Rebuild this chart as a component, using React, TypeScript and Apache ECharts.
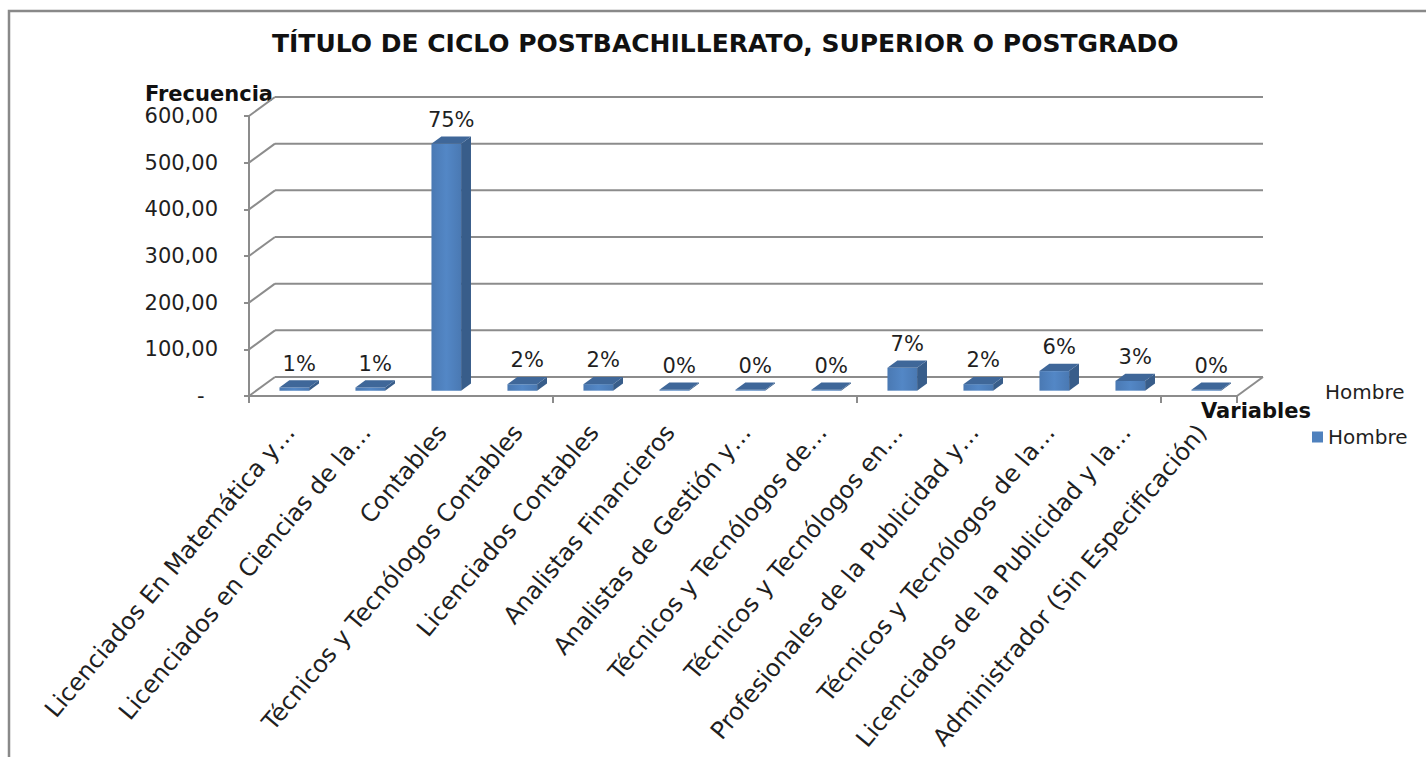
import React, { useEffect, useRef } from 'react';
import * as echarts from 'echarts';

const categories = [
  'Licenciados En Matemática y…',
  'Licenciados en Ciencias de la…',
  'Contables',
  'Técnicos y Tecnólogos Contables',
  'Licenciados Contables',
  'Analistas Financieros',
  'Analistas de Gestión y…',
  'Técnicos y Tecnólogos de…',
  'Técnicos y Tecnólogos en…',
  'Profesionales de la Publicidad y…',
  'Técnicos y Tecnólogos de la…',
  'Licenciados de la Publicidad y la…',
  'Administrador (Sin Especificación)',
];
const values = [7, 7, 529, 14, 14, 2, 2, 2, 49, 14, 42, 21, 2];
const yTicks = [0, 100, 200, 300, 400, 500, 600];
const yTickLabels = ['-', '100,00', '200,00', '300,00', '400,00', '500,00', '600,00'];
const seriesName = 'Hombre';
const titleText = 'TÍTULO DE CICLO POSTBACHILLERATO, SUPERIOR O POSTGRADO';
const yAxisTitle = 'Frecuencia';
const xAxisTitle = 'Variables';

const DX = 26;
const DY = -19;
const FONT = '"DejaVu Sans", sans-serif';
const TEXT = '#1f1f1f';
const GRIDLINE = '#8c8c8c';
const G = { left: 249, right: 189, top: 116, bottom: 361 };
const LABEL_SHIFT = 3;

export default function App() {
  const ref = useRef<HTMLDivElement>(null);
  useEffect(() => {
    const chart = echarts.init(ref.current as HTMLDivElement, null, { renderer: 'svg' });
    const total = values.reduce((a, b) => a + b, 0);
    const option: any = {
      animation: false,
      backgroundColor: '#ffffff',
      title: {
        text: titleText,
        left: 272,
        top: 31,
        padding: 0,
        textStyle: { fontFamily: FONT, fontWeight: 'bold', fontSize: 25, color: '#111' },
      },
      legend: {
        left: 1307,
        top: 422,
        itemWidth: 11,
        itemHeight: 11,
        data: [{ name: seriesName, icon: 'rect', itemStyle: { color: '#4f81bd' } }],
        textStyle: { fontFamily: FONT, fontSize: 20, color: TEXT },
      },
      grid: [
        { left: G.left, right: G.right, top: G.top, bottom: G.bottom },
        { left: G.left + LABEL_SHIFT, right: G.right - LABEL_SHIFT, top: G.top, bottom: G.bottom },
      ],
      xAxis: [
        {
          type: 'category',
          gridIndex: 0,
          data: categories,
          axisLine: { show: true, lineStyle: { color: GRIDLINE, width: 2 } },
          axisTick: { show: true, length: 7, lineStyle: { color: GRIDLINE, width: 2 } },
          axisLabel: { show: false },
          splitLine: { show: false },
        },
        {
          type: 'category',
          gridIndex: 1,
          data: categories,
          axisLine: { show: false },
          axisTick: { show: false },
          axisLabel: {
            show: true,
            interval: 0,
            rotate: 50,
            margin: 32,
            hideOverlap: false,
            fontFamily: FONT,
            fontSize: 24,
            color: TEXT,
          },
        },
      ],
      yAxis: [
        {
          type: 'value',
          gridIndex: 0,
          min: 0,
          max: 600,
          interval: 100,
          axisLine: { show: true, lineStyle: { color: GRIDLINE, width: 2 } },
          axisTick: { show: true, length: 5, lineStyle: { color: GRIDLINE, width: 2 } },
          splitLine: { show: false },
          axisLabel: {
            margin: 31,
            fontFamily: FONT,
            fontSize: 21,
            color: TEXT,
            formatter: (v: number) => {
              const i = yTicks.indexOf(v);
              const s = i >= 0 ? yTickLabels[i] : '';
              return s === '-' ? '-\u00a0\u00a0' : s;
            },
          },
        },
        { type: 'value', gridIndex: 1, min: 0, max: 600, show: false },
      ],
      graphic: [
        {
          type: 'rect',
          shape: { x: 9, y: 11, width: 1500, height: 800 },
          style: { fill: 'none', stroke: '#898989', lineWidth: 2.5 },
          silent: true,
        },
        {
          type: 'text',
          x: 145,
          y: 94,
          style: { text: yAxisTitle, font: 'bold 21px "DejaVu Sans", sans-serif', fill: '#111', verticalAlign: 'middle' },
        },
        {
          type: 'text',
          x: 1201,
          y: 411,
          style: { text: xAxisTitle, font: 'bold 21px "DejaVu Sans", sans-serif', fill: '#111', verticalAlign: 'middle' },
        },
        {
          type: 'text',
          x: 1325,
          y: 392,
          style: { text: seriesName, font: '20px "DejaVu Sans", sans-serif', fill: TEXT, verticalAlign: 'middle' },
        },
      ],
      series: [
        {
          type: 'custom',
          name: 'walls',
          xAxisIndex: 0,
          yAxisIndex: 0,
          silent: true,
          clip: false,
          z: 1,
          data: yTicks.map((v) => [0, v]),
          renderItem: (params: any, api: any) => {
            const cs = params.coordSys;
            const x0 = cs.x;
            const x1 = cs.x + cs.width;
            const v = api.value(1);
            const y = api.coord([0, v])[1];
            const style = { stroke: GRIDLINE, lineWidth: 2, fill: null };
            const children: any[] = [
              { type: 'line', shape: { x1: x0, y1: y, x2: x0 + DX, y2: y + DY }, style },
              { type: 'line', shape: { x1: x0 + DX, y1: y + DY, x2: x1 + DX, y2: y + DY }, style },
            ];
            if (v === 0) {
              children.push({ type: 'line', shape: { x1: x1, y1: y, x2: x1 + DX, y2: y + DY }, style });
            }
            return { type: 'group', children };
          },
        },
        {
          type: 'custom',
          name: seriesName,
          xAxisIndex: 0,
          yAxisIndex: 0,
          clip: false,
          z: 3,
          itemStyle: { color: '#4f81bd' },
          encode: { x: 0, y: 1 },
          data: values.map((v, i) => [i, v]),
          renderItem: (params: any, api: any) => {
            const i = api.value(0);
            const v = api.value(1);
            const base = api.coord([i, 0]);
            const top = api.coord([i, v]);
            const bw = api.size([1, 0])[0] * 0.39;
            const f0 = 0.28;
            const fd = 0.38;
            const ox = DX * f0;
            const oy = DY * f0;
            const bx = DX * fd;
            const by = DY * fd;
            const left = base[0] - bw / 2 + ox;
            const right = left + bw;
            const yb = base[1] + oy;
            const yt = top[1] + oy;
            const pct = Math.round((v / total) * 100) + '%';
            return {
              type: 'group',
              children: [
                {
                  type: 'rect',
                  shape: { x: left, y: yt, width: bw, height: Math.max(0, yb - yt) },
                  style: {
                    fill: new echarts.graphic.LinearGradient(0, 0, 1, 0, [
                      { offset: 0, color: '#4a79b3' },
                      { offset: 0.5, color: '#5387c6' },
                      { offset: 1, color: '#4a79b3' },
                    ]),
                  },
                },
                {
                  type: 'polygon',
                  shape: { points: [[right, yt], [right + bx, yt + by], [right + bx, yb + by], [right, yb]] },
                  style: { fill: '#385d8a' },
                },
                {
                  type: 'polygon',
                  shape: { points: [[left, yt], [left + bx, yt + by], [right + bx, yt + by], [right, yt]] },
                  style: { fill: '#3f6799' },
                },
                {
                  type: 'text',
                  x: left + bw / 2 + bx / 2,
                  y: yt + by - 6,
                  style: {
                    text: pct,
                    font: '21px "DejaVu Sans", sans-serif',
                    fill: TEXT,
                    align: 'center',
                    verticalAlign: 'bottom',
                  },
                },
              ],
            };
          },
        },
      ],
    };
    chart.setOption(option);
    return () => chart.dispose();
  }, []);
  return (
    <div
      ref={ref}
      style={{ position: 'fixed', left: 0, top: 0, width: 1426, height: 757, background: '#fff' }}
    />
  );
}
